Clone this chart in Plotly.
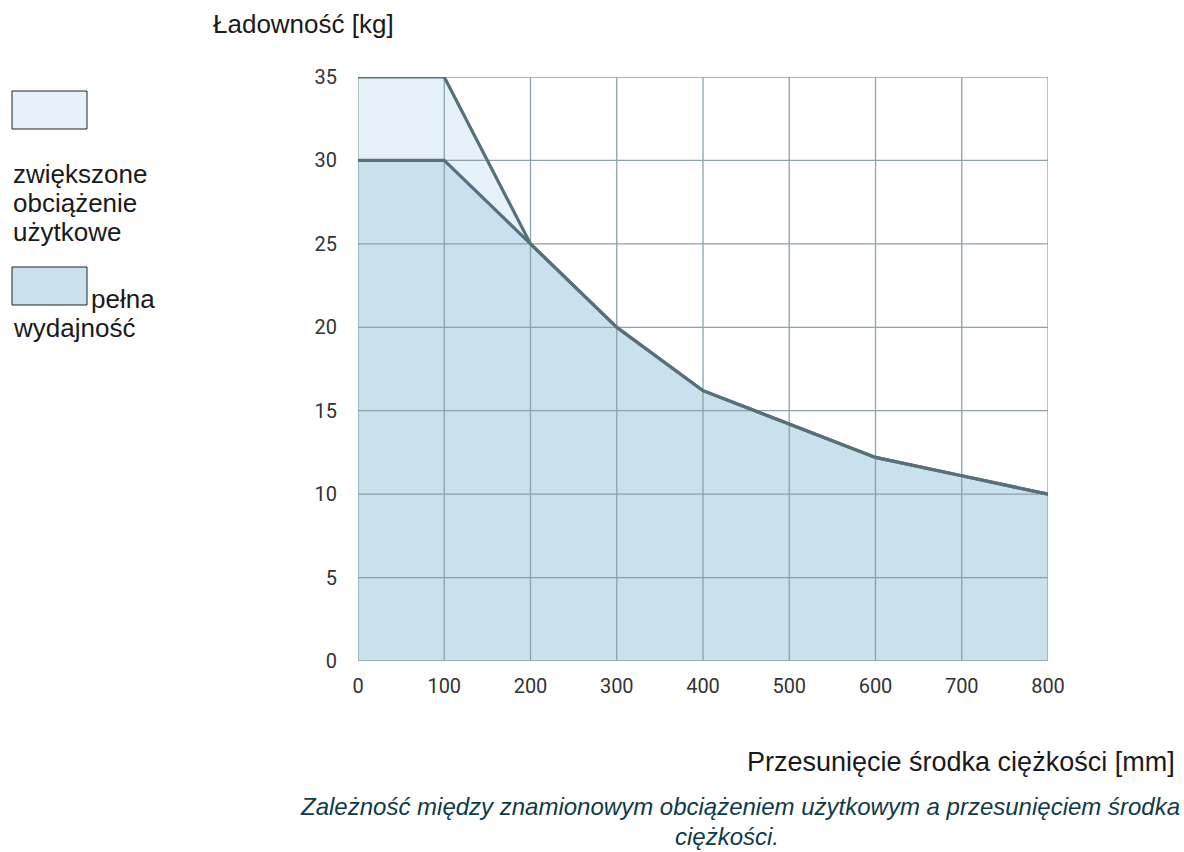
import plotly.graph_objects as go

offset_mm = [0, 100, 200, 300, 400, 500, 600, 700, 800]
full_kg = [30, 30, 25, 20, 16.2, 14.2, 12.2, 11.1, 10]
increased_kg = [35, 35, 25, 20, 16.2, 14.2, 12.2, 11.1, 10]
x_ticks = [0, 100, 200, 300, 400, 500, 600, 700, 800]
y_ticks = [0, 5, 10, 15, 20, 25, 30, 35]

LINE = "#56717a"
GRID = "#8ca3aa"
FILL_FULL = "#c9e0ed"
FILL_INC = "#e6f2f9"
TICKFONT = "Roboto"
TEXTFONT = "Liberation Sans"

fig = go.Figure()
fig.add_trace(go.Scatter(x=offset_mm, y=full_kg, mode="lines", fill="tozeroy",
                         fillcolor=FILL_FULL, line=dict(width=0), hoverinfo="skip"))
fig.add_trace(go.Scatter(x=offset_mm, y=increased_kg, mode="lines", fill="tonexty",
                         fillcolor=FILL_INC, line=dict(width=0), hoverinfo="skip"))

# grid as traces (drawn over fills, under outlines)
gx, gy = [], []
for t in x_ticks:
    gx += [t, t, None]
    gy += [y_ticks[0], y_ticks[-1], None]
for t in y_ticks:
    gx += [x_ticks[0], x_ticks[-1], None]
    gy += [t, t, None]
fig.add_trace(go.Scatter(x=gx, y=gy, mode="lines", line=dict(color=GRID, width=1.3),
                         hoverinfo="skip", connectgaps=False))

fig.add_trace(go.Scatter(x=offset_mm, y=increased_kg, mode="lines",
                         line=dict(color=LINE, width=3.2)))
fig.add_trace(go.Scatter(x=offset_mm, y=full_kg, mode="lines",
                         line=dict(color=LINE, width=3.2)))

fig.update_layout(
    width=1184, height=852,
    margin=dict(l=358, r=136, t=77, b=191),
    paper_bgcolor="white", plot_bgcolor="white",
    showlegend=False,
    font=dict(family=TICKFONT, color="#333333"),
    xaxis=dict(range=[0, 800], tickvals=x_ticks, showgrid=False, zeroline=False,
               showline=False, ticks="", tickfont=dict(size=20, color="#333333"),
               ticklabelstandoff=11),
    yaxis=dict(range=[0, 35], tickvals=y_ticks, showgrid=False, zeroline=False,
               showline=False, ticks="", tickfont=dict(size=20, color="#333333"),
               ticklabelstandoff=20),
)


def px(x):
    return (x - 358) / 690


def py(y):
    return (661 - y) / 584


def add_text(text, x, y, xanchor="left", size=26, color="#1a1a1a", italic=False, align="left"):
    fig.add_annotation(text=text, xref="paper", yref="paper", x=px(x), y=py(y),
                       xanchor=xanchor, yanchor="middle", showarrow=False, align=align,
                       font=dict(family=TEXTFONT, size=size, color=color,
                                 style="italic" if italic else "normal"))


add_text("Ładowność [kg]", 211, 24)
add_text("Przesunięcie środka ciężkości [mm]", 1177, 762, xanchor="right", size=27)
add_text("Zależność między znamionowym obciążeniem użytkowym a przesunięciem środka",
         740, 806, xanchor="center", size=24, color="#0f3a4a", italic=True)
add_text("ciężkości.", 727, 837, xanchor="center", size=24, color="#0f3a4a", italic=True)

# legend
legend_lines = ["zwiększone", "obciążenie", "użytkowe"]
for i, line in enumerate(legend_lines):
    add_text(line, 11, 174 + 29 * i)
add_text("pełna", 89, 299)
add_text("wydajność", 11, 328)
for (y0, y1, col) in [(91, 129, FILL_INC), (267, 305, FILL_FULL)]:
    fig.add_shape(type="rect", xref="paper", yref="paper",
                  x0=px(12), x1=px(87), y0=py(y1), y1=py(y0),
                  fillcolor=col, line=dict(color="#222222", width=1))

fig.write_html("out.html", config={"displayModeBar": False},
               post_script="document.body.style.margin='0';")
